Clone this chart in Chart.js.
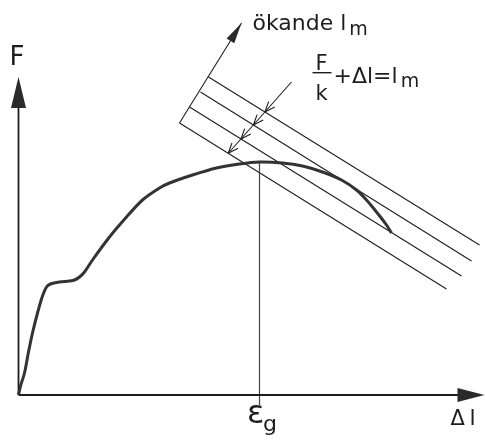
<!DOCTYPE html>
<html><head><meta charset="utf-8">
<script src="https://cdn.jsdelivr.net/npm/chart.js@4.4.1/dist/chart.umd.min.js"></script>
<style>html,body{margin:0;padding:0;background:#fff}#wrap{width:485px;height:444px}</style>
</head><body><div id="wrap"><canvas id="c" width="485" height="444"></canvas></div>
<script>
// Force–elongation curve (arbitrary units)
const curveDl = [0,2,6,10,14,19,24,28,32,41,51,56,61,66,74,91,108,124,141,151,174,198,221,241,264,284,304,323,338,348,358,368,373];
const curveF  = [0,9,22,43,62,82,99,108,111,113,114,115,118,123,135,158,178,195,207,212,220,227,231,233,232,229,223,215,205,195,183,170,162];
// Lines F/k + Δl = l_m for increasing l_m
const lmStartDl = [161,171,182,190];
const lmStartF  = [272,288,303,318];
const lmEndDl   = [428,443,453,461];
const lmEndF    = [106,119,134,150];
// ε_g marker
const epsG = 241, epsTop = 233, epsBottom = -10;
// "ökande l_m" arrow and pointer arrow
const incArrowDl = [161,223], incArrowF = [272,372];
const pointerDl = [273,210], pointerF = [313,242];
// axes extent
const axisDlMax = 466, axisFMax = 318;
// texts
const yLabel = 'F', xLabel = 'Δl', epsLabel = 'ε', epsSub = 'g';
const incLabel = 'ökande l', lmSub = 'm';
const fracNum = 'F', fracDen = 'k', formulaRest = '+Δl=l';

const FONT = '"DejaVu Sans", sans-serif';
const INK = '#1e1e1e';

function seg(x, y) { return x.map((v, i) => ({x: v, y: y[i]})); }
const ds = [];
ds.push({data: seg(curveDl, curveF), borderColor: '#333', borderWidth: 3, tension: 0.3});
ds.push({data: [{x: 0, y: 0}, {x: axisDlMax - 20, y: 0}], borderColor: INK, borderWidth: 1.8});
ds.push({data: [{x: 0, y: 0}, {x: 0, y: axisFMax - 20}], borderColor: INK, borderWidth: 1.8});
ds.push({data: [{x: epsG, y: epsBottom}, {x: epsG, y: epsTop}], borderColor: '#444', borderWidth: 1.2});
for (let i = 0; i < lmStartDl.length; i++) {
  ds.push({data: [{x: lmStartDl[i], y: lmStartF[i]}, {x: lmEndDl[i], y: lmEndF[i]}], borderColor: INK, borderWidth: 1.1});
}
ds.push({data: seg(incArrowDl, incArrowF), borderColor: INK, borderWidth: 1.1});
ds.push({data: seg(pointerDl, pointerF), borderColor: INK, borderWidth: 1.1});
ds.forEach(d => { d.showLine = true; d.pointRadius = 0; d.fill = false; if (d.tension === undefined) d.tension = 0; });

function fillArrow(ctx, tx, ty, fx, fy, len, hw) {
  const dx = tx - fx, dy = ty - fy, L = Math.hypot(dx, dy), ux = dx / L, uy = dy / L;
  const bx = tx - ux * len, by = ty - uy * len;
  ctx.beginPath();
  ctx.moveTo(tx, ty);
  ctx.lineTo(bx - uy * hw, by + ux * hw);
  ctx.lineTo(bx + uy * hw, by - ux * hw);
  ctx.closePath();
  ctx.fill();
}
function intersect(p1, p2, p3, p4) {
  const d = (p1.x - p2.x) * (p3.y - p4.y) - (p1.y - p2.y) * (p3.x - p4.x);
  const t = ((p1.x - p3.x) * (p3.y - p4.y) - (p1.y - p3.y) * (p3.x - p4.x)) / d;
  return {x: p1.x + t * (p2.x - p1.x), y: p1.y + t * (p2.y - p1.y)};
}

const deco = {
  id: 'deco',
  afterDatasetsDraw(chart) {
    const ctx = chart.ctx, X = chart.scales.x, Y = chart.scales.y;
    const px = v => X.getPixelForValue(v), py = v => Y.getPixelForValue(v);
    ctx.save();
    ctx.fillStyle = '#2a2a2a';
    // axis arrows
    fillArrow(ctx, px(axisDlMax), py(0), px(0), py(0), 27, 7);
    fillArrow(ctx, px(0), py(axisFMax), px(0), py(0), 31, 7.5);
    // increasing l_m arrow
    fillArrow(ctx, px(incArrowDl[1]), py(incArrowF[1]), px(incArrowDl[0]), py(incArrowF[0]), 21, 4.5);
    // pointer arrowheads (open V) at each l_m line
    const P1 = {x: px(pointerDl[0]), y: py(pointerF[0])}, P2 = {x: px(pointerDl[1]), y: py(pointerF[1])};
    const bx = P1.x - P2.x, by = P1.y - P2.y, bl = Math.hypot(bx, by), ux = bx / bl, uy = by / bl;
    ctx.strokeStyle = INK; ctx.lineWidth = 1.1;
    for (let i = 0; i < lmStartDl.length; i++) {
      const q = intersect(P1, P2, {x: px(lmStartDl[i]), y: py(lmStartF[i])}, {x: px(lmEndDl[i]), y: py(lmEndF[i])});
      const a = 0.38, L = 11;
      ctx.beginPath();
      for (const s of [a, -a]) {
        const c = Math.cos(s), si = Math.sin(s);
        ctx.moveTo(q.x, q.y);
        ctx.lineTo(q.x + L * (ux * c - uy * si), q.y + L * (ux * si + uy * c));
      }
      ctx.stroke();
    }
    // texts
    ctx.fillStyle = INK; ctx.textBaseline = 'alphabetic'; ctx.textAlign = 'left';
    ctx.font = '26px ' + FONT;
    ctx.fillText(yLabel, px(-9), py(330));
    // ökande l_m
    ctx.font = '22px ' + FONT;
    const ix = px(234), iy = py(365);
    ctx.fillText(incLabel, ix, iy);
    const iw = ctx.measureText(incLabel).width;
    ctx.font = '19px ' + FONT;
    ctx.fillText(lmSub, ix + iw + 3, iy + 5);
    // formula
    ctx.font = '21px ' + FONT;
    ctx.textAlign = 'center';
    const fx = px(303);
    ctx.fillText(fracNum, fx, py(325));
    ctx.fillText(fracDen, fx, py(295));
    ctx.fillRect(fx - 9, py(323), 19, 1.4);
    ctx.textAlign = 'left';
    const rx = px(315), ry = py(312);
    ctx.font = '22px ' + FONT;
    ctx.fillText(formulaRest, rx, ry);
    const rw = ctx.measureText(formulaRest).width;
    ctx.font = '19px ' + FONT;
    ctx.fillText(lmSub, rx + rw + 3, ry + 4);
    // ε_g
    ctx.font = '32px ' + FONT;
    ctx.fillText(epsLabel, px(228.5), py(-28));
    ctx.font = '22px ' + FONT;
    ctx.fillText(epsSub, px(244.5), py(-36));
    // Δl
    ctx.font = '21px ' + FONT;
    ctx.fillText(xLabel.charAt(0), px(432), py(-30));
    ctx.font = '22px ' + FONT;
    ctx.fillText(xLabel.charAt(1), px(451), py(-30));
    ctx.restore();
  }
};

new Chart(document.getElementById('c'), {
  type: 'scatter',
  data: {datasets: ds},
  options: {
    responsive: false, animation: false,
    layout: {padding: 0},
    plugins: {legend: {display: false}, tooltip: {enabled: false}, title: {display: false}},
    scales: {
      x: {type: 'linear', min: -18.5, max: 466.5, display: false},
      y: {type: 'linear', min: -49, max: 395, display: false}
    }
  },
  plugins: [deco]
});
</script>
</body></html>
